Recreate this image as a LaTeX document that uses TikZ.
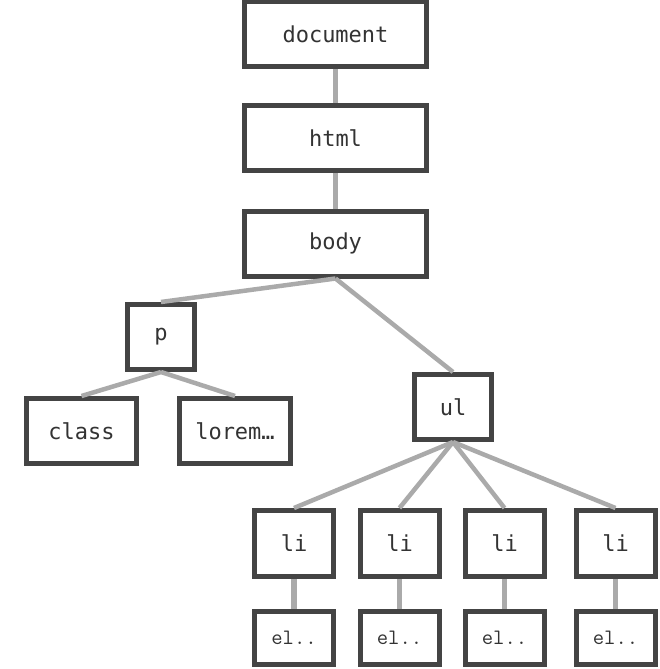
\documentclass[tikz,border=0pt]{standalone}
\usepackage{fontspec}
\newfontfamily\treefont{DejaVu Sans Mono}
\usepackage{tikz}
\usetikzlibrary{positioning}
\definecolor{boxgray}{HTML}{444444}
\definecolor{linegray}{HTML}{AAAAAA}
\definecolor{textgray}{HTML}{333333}

\begin{document}
\begin{tikzpicture}[x=1pt, y=-1pt,
  tag/.style={draw=boxgray, line width=5pt, fill=white, inner sep=0pt,
    text=textgray, font=\treefont\fontsize{22}{26}\selectfont,
    minimum height=65pt},
  leaf/.style={tag, font=\ttfamily\fontsize{22}{26}\selectfont,
    minimum height=53pt, minimum width=79pt},
  link/.style={draw=linegray, line width=4.5pt}]
\useasboundingbox (0,0) rectangle (660,669);
% top of the tree
\node[tag, minimum width=182pt] (doc) at (335.5,34.5) {document};
\node[tag, minimum width=182pt] (html) at (335.5,138) {html};
\node[tag, minimum width=182pt] (body) at (335.5,243.5) {body};
% left branch
\node[tag, minimum width=67pt] (p) at (161,337) {p};
\node[tag, minimum width=110pt] (class) at (81.5,431) {class};
\node[tag, minimum width=111pt] (lorem) at (235,431) {lorem…};
% right branch
\node[tag, minimum width=77pt] (ul) at (453,407) {ul};
\foreach \i/\x in {1/294, 2/399.5, 3/504.5, 4/615.5} {
  \node[tag, minimum width=79pt, minimum height=66pt] (li\i) at (\x,543.5) {li};
  \node[leaf] (el\i) at (\x,638) {el..};
  \draw[link] (ul.south) -- (li\i.north);
  \draw[link, line width=5.5pt] (li\i.south) -- (el\i.north);
}
\draw[link] (doc.south) -- (html.north);
\draw[link] (html.south) -- (body.north);
\draw[link] (body.south) -- (p.north);
\draw[link] (body.south) -- (ul.north);
\draw[link] (p.south) -- (class.north);
\draw[link] (p.south) -- (lorem.north);
%\draw[link] (body.south) -- (ul.north west);
\end{tikzpicture}
\end{document}
